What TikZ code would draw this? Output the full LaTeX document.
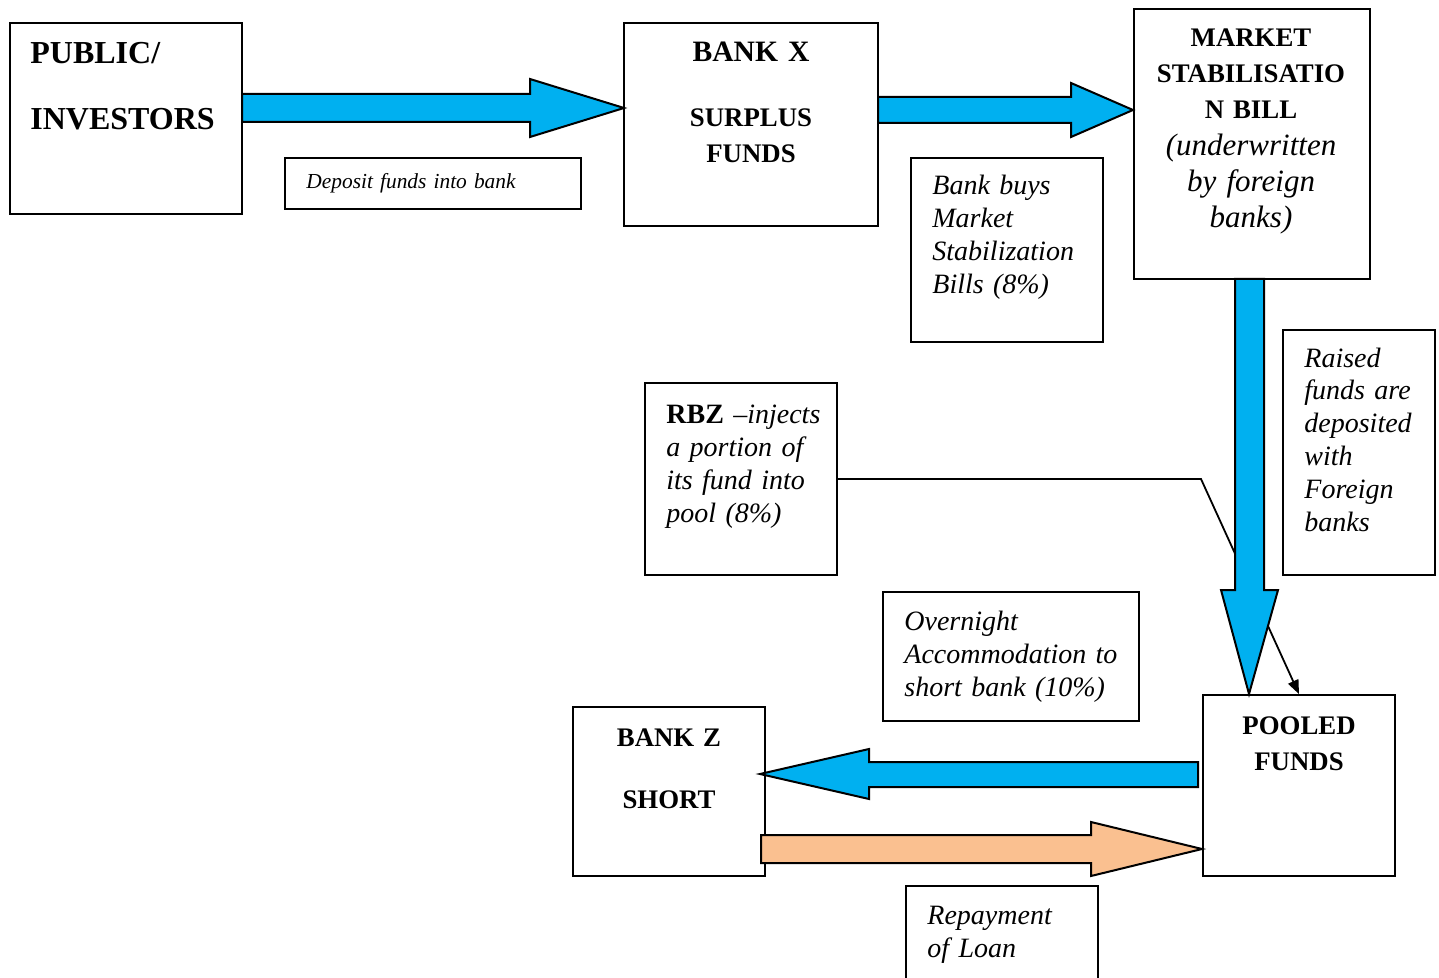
\documentclass[tikz,border=0pt]{standalone}
\usepackage{fontspec}
\setmainfont{Liberation Serif}
\usetikzlibrary{fit,arrows.meta}
\definecolor{flowblue}{HTML}{00B0F0}
\definecolor{flowpeach}{HTML}{FAC090}
\begin{document}
\begin{tikzpicture}[x=0.5pt,y=-0.5pt,
  box/.style={draw=black, line width=0.9pt, inner sep=0pt, rectangle},
  blk/.style={draw=black, line width=1pt, line join=miter},
  boxtitle/.style={font=\fontsize{13.4}{18}\selectfont\bfseries, inner sep=0pt, anchor=base, align=center, text width=#1},
  bigtitle/.style={font=\fontsize{16}{18}\selectfont\bfseries, inner sep=0pt, anchor=base west},
  notetext/.style={font=\fontsize{14}{16.5}\selectfont\itshape, inner sep=0pt, anchor=base west, align=left, text width=#1},
]
\useasboundingbox (0,0) rectangle (1439,978);
\clip (0,0) rectangle (1439,978);

% boxes
\node[box, fit={(10,23) (242,214)}] (pub) {};
\node[box, fit={(285,158) (581,209)}] (dep) {};
\node[box, fit={(624,23) (878,226)}] (bankx) {};
\node[box, fit={(911,158) (1103,342)}] (buys) {};
\node[box, fit={(1134,9) (1370,279)}] (msb) {};
\node[box, fit={(1283,330) (1435,575)}] (raised) {};
\node[box, fit={(645,383) (837,575)}] (rbz) {};
\node[box, fit={(883,592) (1139,721)}] (overn) {};
\node[box, fit={(573,707) (765,876)}] (bankz) {};
\node[box, fit={(1203,695) (1395,876)}] (pool) {};
\node[box, fit={(906,886) (1098,1000)}] (repay) {};

% texts
\node[bigtitle] (pubA) at (30,64) {PUBLIC/};
\node[bigtitle] (pubB) at (30,130) {INVESTORS};
\node[notetext=150pt, font=\fontsize{10.7}{13}\selectfont\itshape] (depT) at (306,189) {Deposit funds into bank};
\node[boxtitle=120pt, font=\fontsize{14.8}{18}\selectfont\bfseries] (bankxA) at (751,62) {BANK X};
\node[boxtitle=120pt] (bankxB) at (751,127) {SURPLUS\\FUNDS};
\node[notetext=90pt] (buysT) at (932,195) {Bank buys\\Market\\Stabilization\\Bills (8\%)};
\node[boxtitle=115pt] (msbA) at (1251,47) {MARKET\\STABILISATIO\\N BILL};
\node[inner sep=0pt, anchor=base, align=center, text width=115pt, font=\fontsize{15.5}{17.8}\selectfont\itshape] (msbB) at (1251,156) {(underwritten\\by foreign\\banks)};
\node[notetext=72pt, font=\fontsize{14}{16.4}\selectfont\itshape] (raisedT) at (1304,367) {Raised\\funds are\\deposited\\with\\Foreign\\banks};
\node[notetext=90pt, font=\fontsize{14}{16.6}\selectfont\itshape] (rbzT) at (666,423) {{\normalfont\bfseries RBZ} –injects\\a portion of\\its fund into\\pool (8\%)};
\node[notetext=120pt] (overnT) at (904,630) {Overnight\\Accommodation to\\short bank (10\%)};
\node[boxtitle=90pt] (bankzA) at (669,746) {BANK Z};
\node[boxtitle=90pt] (bankzB) at (669,808) {SHORT};
\node[boxtitle=90pt] (poolT) at (1299,734) {POOLED\\FUNDS};
\node[notetext=90pt] (repayT) at (927,924) {Repayment\\of Loan};

% thin connector from RBZ into the pool
\coordinate (bend) at (1201,479);
\draw[line width=0.9pt, -{Triangle[length=7pt,width=5.5pt]}] (rbz.east |- bend) -- (bend) -- (pool.north);

% block arrows
\draw[blk, fill=flowblue] (242,94) -- (530,94) -- (530,79) -- (624,108) -- (530,137) -- (530,122) -- (242,122) -- cycle;
\draw[blk, fill=flowblue] (878,97) -- (1071,97) -- (1071,83) -- (1133,110) -- (1071,137) -- (1071,123) -- (878,123) -- cycle;
\draw[blk, fill=flowblue] (1235,279) -- (1235,590) -- (1221,590) -- (1249,694) -- (1278,590) -- (1264,590) -- (1264,279) -- cycle;
\draw[blk, fill=flowblue] (1198,762) -- (869,762) -- (869,749) -- (760,774) -- (869,799) -- (869,787) -- (1198,787) -- cycle;
\draw[blk, fill=flowpeach] (761,835) -- (1091,835) -- (1091,822) -- (1202,849) -- (1091,876) -- (1091,863) -- (761,863) -- cycle;
\end{tikzpicture}
\end{document}
